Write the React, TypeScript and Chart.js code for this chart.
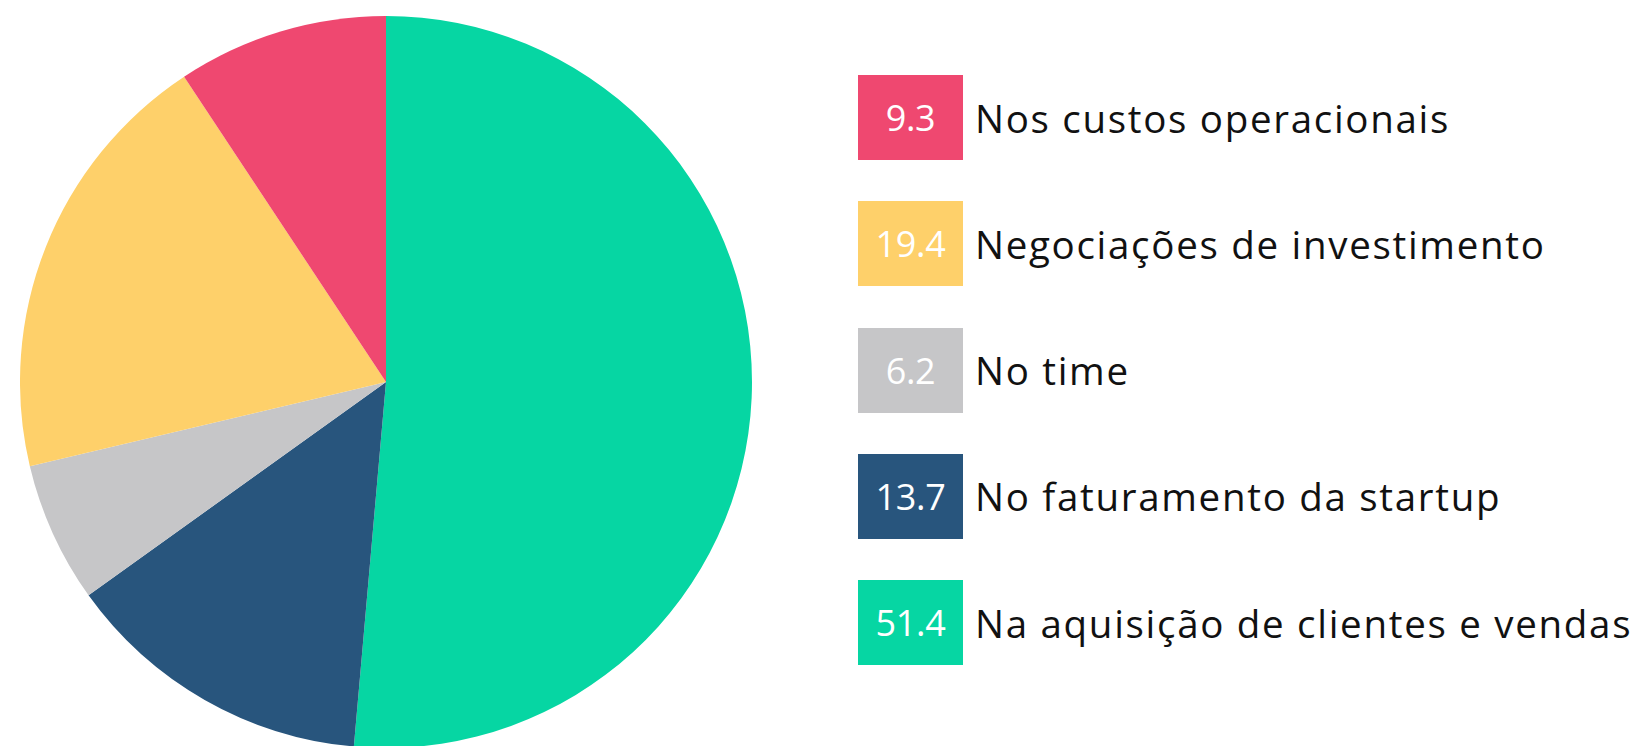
import React, { useEffect, useRef } from "react";
import { Chart, registerables } from "chart.js";

Chart.register(...registerables);

// Pie data, in clockwise order from 12 o'clock
const categories = [
  "Na aquisição de clientes e vendas",
  "No faturamento da startup",
  "No time",
  "Negociações de investimento",
  "Nos custos operacionais",
];
const values = [51.4, 13.7, 6.2, 19.4, 9.3];
const colors = ["#06D6A3", "#28557D", "#C6C6C8", "#FED06A", "#EF4870"];

// Legend order (top to bottom) as indexes into the arrays above
const legendOrder = [4, 3, 2, 1, 0];

export default function App() {
  const canvasRef = useRef<HTMLCanvasElement | null>(null);

  useEffect(() => {
    document.body.style.margin = "0";
    const ctx = canvasRef.current!;
    const chart = new Chart(ctx, {
      type: "pie",
      data: {
        labels: categories,
        datasets: [
          {
            data: values,
            backgroundColor: colors,
            borderWidth: 0,
          },
        ],
      },
      options: {
        animation: false,
        responsive: false,
        maintainAspectRatio: false,
        layout: { padding: 0 },
        plugins: {
          legend: { display: false },
          tooltip: { enabled: false },
        },
      },
    });
    return () => chart.destroy();
  }, []);

  return (
    <div
      style={{
        position: "absolute",
        left: 0,
        top: 0,
        width: 1639,
        height: 746,
        background: "#ffffff",
        overflow: "hidden",
      }}
    >
      <canvas
        ref={canvasRef}
        width={732}
        height={732}
        style={{ position: "absolute", left: 20, top: 16, width: 732, height: 732 }}
      />
      {legendOrder.map((idx, i) => (
        <div
          key={idx}
          style={{
            position: "absolute",
            left: 858,
            top: 75 + i * 126.3,
            height: 85,
            display: "flex",
            alignItems: "center",
            fontFamily: "'Open Sans', sans-serif",
          }}
        >
          <div
            style={{
              width: 105,
              height: 85,
              background: colors[idx],
              color: "#ffffff",
              display: "flex",
              alignItems: "center",
              justifyContent: "center",
              fontSize: 36,
              letterSpacing: -0.3,
            }}
          >
            {values[idx].toFixed(1)}
          </div>
          <div
            style={{
              marginLeft: 12,
              fontSize: 38.5,
              color: "#111111",
              whiteSpace: "nowrap",
              letterSpacing: 1.7,
            }}
          >
            {categories[idx]}
          </div>
        </div>
      ))}
    </div>
  );
}
